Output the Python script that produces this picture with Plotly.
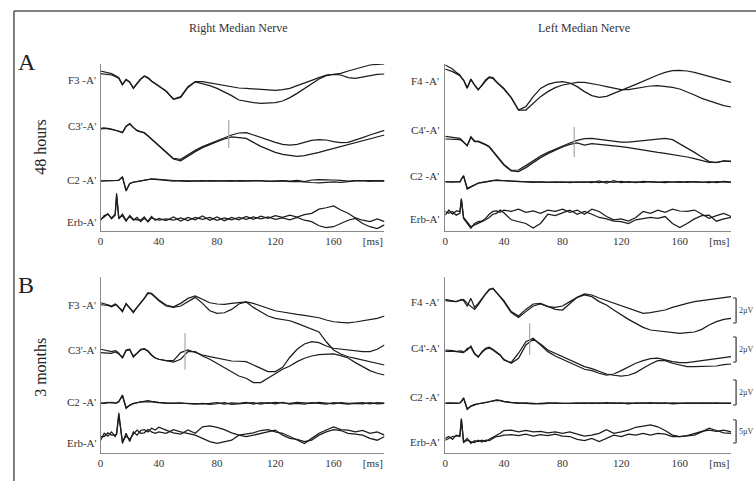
import plotly.graph_objects as go

W, H = 756, 481

# time axis (ms)
t_ms = [0, 2.5, 5, 7.5, 10, 11, 12.5, 15, 17.5, 20, 22.5, 25, 27.5, 30, 32.5, 35, 37.5, 40,
        45, 50, 55, 60, 65, 70, 75, 80, 85, 90, 95,
        100, 105, 110, 115, 120, 125, 130, 135, 140, 145, 150, 155, 160, 165, 170, 175, 180, 185, 190, 195]

# ---------------- A : 48 hours, Right Median Nerve (uV) ----------------
a_r_f3_1 = [0.32,0.27,0.21,0.11,-0.05,-0.11,-0.21,-0.75,-0.35,-0.55,-1.05,-0.67,-0.32,-0.08,-0.21,-0.48,-0.69,-0.88,
            -1.28,-1.92,-1.73,-0.93,-0.53,-0.53,-0.64,-0.75,-0.85,-0.96,-1.04,
            -1.07,-1.12,-1.17,-1.23,-1.23,-1.17,-1.07,-0.85,-0.67,-0.43,-0.21,0.0,0.05,0.13,0.32,0.48,0.67,0.8,0.85,0.88]
a_r_f3_2 = [0.11,0.08,0.05,0.0,-0.11,-0.17,-0.27,-0.78,-0.38,-0.58,-1.07,-0.7,-0.35,-0.1,-0.25,-0.5,-0.72,-0.9,
            -1.3,-1.95,-1.8,-1.0,-0.55,-0.67,-0.85,-1.07,-1.33,-1.65,-2.0,
            -2.13,-2.21,-2.27,-2.27,-2.21,-2.08,-1.81,-1.47,-1.07,-0.67,-0.32,-0.05,0.05,0.0,-0.21,-0.27,-0.16,-0.05,0.05,0.08]
a_r_c3_1 = [-0.08,-0.03,-0.03,-0.08,-0.16,-0.2,-0.24,-0.35,0.15,0.35,0.05,-0.19,-0.29,-0.37,-0.61,-0.88,-1.15,-1.41,
            -1.89,-2.43,-2.5,-2.11,-1.79,-1.49,-1.25,-1.04,-0.83,-0.56,-0.4,
            -0.37,-0.56,-0.77,-0.99,-1.15,-1.31,-1.36,-1.31,-1.15,-0.99,-0.93,-0.96,-1.09,-1.17,-1.15,-0.99,-0.77,-0.56,-0.35,-0.19]
a_r_c3_2 = [-0.03,0.0,-0.05,-0.1,-0.18,-0.22,-0.27,-0.38,0.12,0.32,0.03,-0.21,-0.32,-0.4,-0.64,-0.9,-1.17,-1.44,
            -1.92,-2.48,-2.62,-2.24,-1.89,-1.57,-1.31,-1.09,-0.88,-0.72,-0.77,
            -0.83,-1.15,-1.47,-1.71,-1.95,-2.11,-2.21,-2.27,-2.21,-2.11,-1.95,-1.79,-1.63,-1.47,-1.31,-1.2,-1.04,-0.88,-0.72,-0.56]
a_r_c2_1 = [0,0,0.03,0,0.03,0.05,0.05,0.35,-0.8,-0.2,-0.08,-0.05,0.0,0.08,0.13,0.16,0.16,0.13,
            0.08,0.03,0.0,-0.03,0.0,0.03,0.0,0.03,0.0,0.03,0.0,
            0.03,0.0,0.03,-0.03,0.0,0.03,0.0,0.05,-0.05,0.08,0.1,0.12,0.08,0.05,0.0,0.03,0.0,0.03,0.03,0.03]
a_r_c2_2 = [0,0,0,0.03,0.0,0.05,0.08,0.3,-0.75,-0.22,-0.1,-0.05,0.03,0.05,0.1,0.16,0.13,0.1,
            0.05,0.0,0.03,0.0,-0.03,0.0,0.03,0.0,0.03,0.0,0.03,
            0.0,0.03,0.0,0.0,-0.03,0.0,-0.05,-0.03,-0.1,-0.12,-0.15,-0.1,-0.08,-0.1,-0.03,0.0,0.03,-0.03,0.0,0.0]
a_r_erb_1 = [-0.4,0.6,0.9,0.1,0.9,5.4,-0.1,0.9,-0.4,0.4,-0.4,0.2,-0.7,0.0,-0.6,0.4,-0.4,0.0,
             -0.5,0.3,-0.6,0.2,-0.3,0.5,-0.4,0.3,-0.5,0.2,-0.3,
             0.4,-0.2,0.5,0.0,0.6,0.2,0.7,0.3,0.8,1.1,2.0,2.3,2.7,1.8,1.1,0.1,-0.4,-0.7,-0.1,-0.7]
a_r_erb_2 = [-0.2,0.3,1.0,-0.1,0.7,4.9,0.1,0.6,-0.6,0.6,-0.2,-0.3,-0.4,0.3,-0.8,0.1,-0.2,-0.4,
             -0.1,-0.4,0.1,-0.5,0.2,-0.2,0.2,-0.4,0.1,-0.3,0.2,
             -0.2,0.3,-0.1,0.3,-0.2,0.1,-0.3,0.2,-0.4,-0.7,-1.6,-2.0,-1.8,-1.1,-0.4,0.0,-1.1,-1.8,-2.2,-1.4]

# ---------------- A : 48 hours, Left Median Nerve (uV) ----------------
a_l_f4_1 = [0.8,0.67,0.48,0.21,0.0,-0.21,-0.4,-1.07,-0.32,-0.8,-1.2,-0.8,-0.4,-0.16,-0.21,-0.53,-0.8,-1.07,
            -1.81,-2.8,-2.53,-1.73,-1.07,-0.75,-0.59,-0.53,-0.64,-0.93,-1.33,
            -1.65,-1.79,-1.71,-1.47,-1.2,-0.99,-0.75,-0.48,-0.21,0.0,0.21,0.35,0.37,0.32,0.21,0.05,-0.13,-0.32,-0.48,-0.59]
a_l_f4_2 = [0.48,0.4,0.27,0.11,-0.05,-0.21,-0.4,-1.01,-0.37,-0.8,-1.15,-0.85,-0.48,-0.21,-0.27,-0.59,-0.85,-1.12,
            -1.81,-2.8,-2.8,-2.27,-1.73,-1.33,-1.01,-0.8,-0.67,-0.59,-0.59,
            -0.67,-0.8,-0.93,-1.07,-1.17,-1.17,-1.07,-0.96,-0.88,-0.85,-0.91,-0.99,-1.12,-1.33,-1.6,-1.87,-2.08,-2.29,-2.45,-2.56]
a_l_c4_1 = [0.21,0.16,0.11,0.11,0.05,-0.05,-0.21,-0.53,0.19,-0.16,-0.16,-0.27,-0.43,-0.59,-0.96,-1.33,-1.71,-2.03,
            -2.51,-2.48,-2.13,-1.71,-1.36,-1.07,-0.8,-0.56,-0.32,-0.11,0.03,
            0.05,-0.03,-0.11,-0.19,-0.24,-0.24,-0.19,-0.13,-0.05,0.0,0.05,-0.05,-0.37,-0.75,-1.07,-1.44,-1.81,-1.89,-1.76,-1.76]
a_l_c4_2 = [0.0,0.0,0.0,-0.03,-0.05,-0.11,-0.27,-0.53,0.13,-0.21,-0.21,-0.32,-0.48,-0.64,-1.01,-1.39,-1.76,-2.08,
            -2.56,-2.61,-2.29,-1.87,-1.49,-1.17,-0.88,-0.64,-0.43,-0.32,-0.48,
            -0.37,-0.43,-0.48,-0.53,-0.61,-0.69,-0.8,-0.88,-0.99,-1.07,-1.15,-1.23,-1.33,-1.44,-1.57,-1.71,-1.87,-1.87,-1.76,-1.81]
a_l_c2_1 = [0,0,0.03,0,0.03,0.24,0.51,-0.51,-0.37,-0.19,-0.08,-0.03,0.03,0.08,0.13,0.16,0.13,0.13,
            0.08,0.05,0.0,-0.03,0.0,-0.03,0.0,-0.03,0.0,-0.03,0.0,
            -0.05,0.08,-0.08,0.1,-0.05,0.03,-0.05,0.05,0.0,-0.03,0.03,0.0,-0.03,0.03,0.0,-0.03,0.03,-0.05,0.05,0.0]
a_l_c2_2 = [0.03,0.0,0.0,0.03,0.0,0.2,0.48,-0.56,-0.4,-0.21,-0.1,-0.05,0.03,0.05,0.1,0.13,0.13,0.1,
            0.05,0.03,0.03,0.0,-0.03,0.0,-0.03,0.0,-0.05,0.0,-0.03,
            0.03,-0.05,0.05,-0.03,0.05,-0.03,0.0,-0.03,0.03,0.0,-0.05,0.0,0.03,-0.03,0.03,0.0,-0.05,0.03,-0.03,-0.03]
a_l_erb_1 = [0.1,1.2,0.3,1.0,0.9,3.7,-0.6,-1.7,-2.7,-1.7,-1.3,-1.2,-0.6,0.3,0.9,1.0,0.7,1.2,
             0.9,1.4,0.7,1.0,0.5,1.2,0.9,1.4,0.7,1.2,0.3,
             1.4,0.9,-0.2,-0.9,-0.7,-1.2,-0.4,0.9,0.5,1.2,0.7,1.4,1.0,0.9,1.2,0.3,-0.6,0.0,0.5,-0.2]
a_l_erb_2 = [0.9,0.5,0.9,0.1,0.5,3.4,-0.4,-1.3,-2.4,-2.0,-1.7,-1.3,-0.9,-0.4,0.3,0.5,1.2,0.6,
             -0.9,-1.3,-1.7,-2.7,-1.7,0.3,0.0,0.6,1.2,0.3,0.9,
             0.3,-0.4,-0.7,-1.2,-1.3,-1.7,-0.9,-0.7,-0.4,-0.6,-0.2,-1.7,-2.6,-1.7,-0.7,0.0,0.1,-1.2,-0.7,-0.4]

# ---------------- B : 3 months, Right Median Nerve (uV) ----------------
b_r_f3_1 = [0.05,0.0,-0.11,-0.21,-0.05,-0.11,-0.32,-0.67,0.0,-0.4,-0.75,-0.32,0.0,0.4,0.85,0.8,0.53,0.27,
            -0.13,-0.27,0.0,0.4,0.59,0.32,0.05,-0.05,-0.08,0.0,0.08,
            0.11,0.0,-0.21,-0.43,-0.59,-0.69,-0.8,-0.88,-0.96,-1.07,-1.15,-1.33,-1.47,-1.52,-1.55,-1.49,-1.39,-1.33,-1.2,-1.01]
b_r_f3_2 = [-0.11,-0.11,-0.16,-0.27,-0.13,-0.16,-0.32,-0.59,-0.05,-0.32,-0.67,-0.32,0.0,0.4,0.8,0.75,0.48,0.21,
            -0.21,-0.32,-0.21,0.13,0.48,0.0,-0.59,-0.8,-0.75,-0.48,-0.05,
            0.11,-0.32,-0.67,-1.01,-1.2,-1.28,-1.39,-1.6,-1.81,-2.03,-2.29,-3.07,-3.73,-4.05,-4.27,-4.4,-4.53,-4.67,-4.8,-4.93]
b_r_c3_1 = [0.11,0.05,0.0,-0.08,0.0,-0.05,-0.21,-0.61,0.05,0.11,-0.53,-0.21,0.11,0.16,0.0,-0.35,-0.59,-0.69,
            -0.8,-0.8,-0.16,0.05,-0.16,-0.35,-0.48,-0.61,-0.75,-0.83,-0.85,
            -0.88,-1.15,-1.41,-1.68,-1.68,-1.33,-0.53,0.11,0.53,0.72,0.64,0.37,0.19,0.11,0.05,0.0,-0.08,-0.08,0.11,0.45]
b_r_c3_2 = [-0.16,-0.16,-0.21,-0.21,-0.11,-0.16,-0.27,-0.53,0.0,0.05,-0.43,-0.21,0.05,0.11,-0.05,-0.37,-0.59,-0.69,
            -0.8,-0.91,-0.69,-0.08,-0.08,-0.43,-0.69,-1.01,-1.33,-1.68,-2.03,
            -2.21,-2.56,-2.56,-2.21,-1.87,-1.49,-1.23,-0.88,-0.61,-0.43,-0.32,-0.27,-0.27,-0.4,-0.59,-0.96,-1.28,-1.6,-1.81,-1.95]
b_r_c2_1 = [0,0.05,0.08,0.05,0.0,0.03,0.13,0.67,-0.35,-0.13,0.0,0.05,0.1,0.16,0.21,0.16,0.1,0.08,
            0.05,0.03,0.0,0.03,0.0,-0.03,0.0,0.05,-0.05,0.03,0.0,
            0.08,-0.05,0.05,0.0,0.08,0.03,0.0,0.08,0.05,0.0,0.08,0.03,-0.03,0.05,0.0,0.03,0.05,-0.03,0.05,0.03]
b_r_c2_2 = [0.03,0.0,0.05,0.08,0.03,0.05,0.16,0.6,-0.4,-0.16,-0.03,0.08,0.13,0.13,0.16,0.13,0.08,0.05,
            0.0,0.0,0.03,-0.03,-0.05,0.0,-0.08,-0.03,0.05,-0.08,-0.05,
            0.0,0.05,-0.05,0.05,-0.03,0.08,-0.05,0.0,-0.05,0.05,0.0,-0.05,0.05,0.0,-0.05,0.0,-0.03,0.05,-0.03,0.0]
b_r_erb_1 = [-0.4,1.1,0.5,1.4,0.4,1.1,5.5,-1.1,1.1,-0.7,1.4,0.7,1.7,1.9,1.4,2.2,1.8,2.4,
             1.8,1.2,0.9,1.8,1.1,2.5,2.7,2.4,1.9,1.2,0.7,
             0.9,1.2,1.7,1.9,1.4,1.1,0.4,-0.4,-1.1,0.0,1.1,1.8,2.5,1.9,1.8,1.4,1.7,1.1,1.4,0.7]
b_r_erb_2 = [0.4,0.4,1.2,0.7,0.7,0.9,5.0,-0.7,0.5,-0.2,0.9,1.8,1.1,1.2,1.9,1.4,1.1,1.4,
             1.1,1.9,1.4,1.1,0.7,0.0,-0.7,-1.1,-0.7,-0.4,0.7,
             0.4,0.7,1.1,1.4,1.8,0.7,0.0,-0.2,-0.7,-0.4,0.7,1.4,1.9,1.7,1.1,0.9,0.7,0.0,-0.4,0.4]

# ---------------- B : 3 months, Left Median Nerve (uV) ----------------
b_l_f4_1 = [0.05,0.0,-0.05,-0.13,0.0,0.05,-0.05,-0.48,0.13,-0.59,-0.27,0.13,0.53,0.85,0.93,0.59,0.27,-0.05,
            -0.93,-1.28,-0.75,-0.32,-0.27,-0.48,-0.75,-0.8,-0.27,0.21,0.48,
            0.4,0.16,-0.05,-0.27,-0.48,-0.67,-0.85,-1.07,-1.01,-0.93,-0.8,-0.59,-0.4,-0.27,-0.13,-0.05,0.05,0.13,0.21,0.27]
b_l_f4_2 = [-0.05,-0.05,-0.11,-0.13,-0.05,0.0,0.05,-0.27,-0.53,-0.75,-0.4,0.05,0.48,0.8,0.93,0.59,0.21,-0.13,
            -1.01,-1.39,-0.93,-0.48,-0.32,-0.53,-0.59,-0.48,-0.13,0.21,0.4,
            0.27,-0.13,-0.4,-0.8,-1.2,-1.55,-1.87,-2.19,-2.4,-2.48,-2.53,-2.61,-2.67,-2.61,-2.56,-2.35,-2.0,-1.73,-1.55,-1.47]
b_l_c4_1 = [0.05,0.05,0.0,-0.05,0.0,-0.03,-0.11,0.05,0.37,-0.21,-0.53,-0.08,0.19,0.27,0.11,-0.11,-0.35,-0.75,
            -0.95,-0.21,0.72,0.99,0.45,-0.08,-0.43,-0.69,-0.96,-1.23,-1.49,
            -1.6,-1.81,-1.95,-1.87,-1.6,-1.28,-1.01,-0.8,-0.64,-0.61,-0.75,-0.88,-0.96,-0.96,-0.88,-0.8,-0.75,-0.64,-0.53,-0.48]
b_l_c4_2 = [-0.05,-0.03,-0.05,-0.08,-0.11,-0.11,-0.16,0.16,0.27,-0.27,-0.48,-0.16,0.11,0.19,0.05,-0.16,-0.37,-0.7,
            -1.01,-0.61,0.45,0.91,0.53,0.05,-0.21,-0.48,-0.75,-1.01,-1.28,
            -1.44,-1.68,-1.87,-1.97,-2.03,-1.97,-1.76,-1.41,-1.07,-0.8,-0.8,-1.01,-1.17,-1.28,-1.28,-1.28,-1.28,-1.23,-1.12,-1.07]
b_l_c2_1 = [0,0.03,0.0,0.03,0.05,0.16,0.45,-0.43,-0.21,-0.08,-0.05,0.0,0.05,0.13,0.21,0.27,0.24,0.16,
            0.08,0.03,0.0,-0.03,0.0,0.03,0.0,-0.03,0.0,0.03,0.0,
            0.03,0.0,0.05,0.0,0.03,-0.03,0.03,0.0,0.05,0.0,0.03,-0.03,0.0,0.03,0.0,0.03,0.0,0.03,0.0,0.0]
b_l_c2_2 = [0.03,0.0,0.03,0.0,0.03,0.13,0.4,-0.48,-0.24,-0.11,-0.03,0.03,0.08,0.16,0.21,0.24,0.21,0.13,
            0.05,0.0,0.03,0.0,-0.03,0.0,0.03,0.0,-0.03,0.0,0.03,
            0.0,0.03,0.0,0.03,0.0,0.03,0.0,0.03,0.0,0.03,0.0,0.03,0.0,0.0,0.03,0.0,0.03,0.0,0.03,0.03]
b_l_erb_1 = [-0.4,0.0,0.4,0.5,0.7,4.3,-0.7,0.0,-1.1,-0.5,-0.7,-0.4,-0.7,-0.2,0.2,0.7,1.1,1.7,
             1.8,1.4,1.7,1.4,1.5,1.2,1.4,1.1,1.4,0.9,0.5,
             0.7,1.1,1.9,1.1,1.4,1.8,2.4,2.7,2.9,2.5,1.7,0.7,0.4,0.6,1.1,1.5,1.8,1.5,1.8,1.4]
b_l_erb_2 = [0.0,0.4,-0.2,0.7,0.4,4.0,-0.9,-0.4,-0.7,-0.9,-0.4,-0.8,-0.4,-0.5,0.0,0.4,0.5,0.7,
             0.8,0.6,0.9,0.5,0.8,0.6,0.9,0.5,0.4,-0.2,-0.5,
             0.0,-0.7,0.0,0.7,0.4,0.9,0.7,1.1,0.7,1.1,0.9,0.4,0.4,0.5,0.7,1.4,2.2,1.7,1.2,1.1]

# latency cursors on the central channel (ms, extent in uV)
cursor_t = [88, 88, 58, 57.6]
cursor_top = [0.64, 0.96, 1.4, 2.2]
cursor_bottom = [-1.6, -1.44, -1.5, -0.35]

# calibration bars (uV) on the 3-month left-nerve panel
cal_uv = [2, 2, 2, 5]
cal_text = ["2\u00b5V", "2\u00b5V", "2\u00b5V", "5\u00b5V"]
cal_bottom_uv = [-1.84, -0.91, -0.13, -1.0]

ERB_GAIN = 0.37      # Erb channel is drawn at lower gain (5 uV bar)
PX_PER_UV = 12.5

panels = [
    dict(title="Right Median Nerve", xpx=(98, 383), ypx=(64, 231), label_x=95,
         labels=["F3 -A'", "C3'-A'", "C2 -A'", "Erb-A'"], label_y=[80, 126, 180, 222],
         offsets=[12.48, 8.24, 4.0, 1.01],
         data=[(a_r_f3_1, a_r_f3_2), (a_r_c3_1, a_r_c3_2), (a_r_c2_1, a_r_c2_2), (a_r_erb_1, a_r_erb_2)]),
    dict(title="Left Median Nerve", xpx=(444, 731), ypx=(64, 231), label_x=440,
         labels=["F4 -A'", "C4'-A'", "C2 -A'", "Erb-A'"], label_y=[81, 130, 176, 219],
         offsets=[12.48, 7.36, 3.92, 1.23],
         data=[(a_l_f4_1, a_l_f4_2), (a_l_c4_1, a_l_c4_2), (a_l_c2_1, a_l_c2_2), (a_l_erb_1, a_l_erb_2)]),
    dict(title=None, xpx=(98, 383), ypx=(277, 453), label_x=95,
         labels=["F3 -A'", "C3'-A'", "C2 -A'", "Erb-A'"], label_y=[305, 350, 402, 443],
         offsets=[11.97, 8.19, 3.97, 1.17],
         data=[(b_r_f3_1, b_r_f3_2), (b_r_c3_1, b_r_c3_2), (b_r_c2_1, b_r_c2_2), (b_r_erb_1, b_r_erb_2)]),
    dict(title=None, xpx=(444, 731), ypx=(277, 453), label_x=440,
         labels=["F4 -A'", "C4'-A'", "C2 -A'", "Erb-A'"], label_y=[302, 348, 397, 442],
         offsets=[12.24, 8.19, 3.97, 1.17],
         data=[(b_l_f4_1, b_l_f4_2), (b_l_c4_1, b_l_c4_2), (b_l_c2_1, b_l_c2_2), (b_l_erb_1, b_l_erb_2)]),
]

SERIF = "Liberation Serif"
fig = go.Figure()
layout = dict(width=W, height=H, margin=dict(l=0, r=0, t=0, b=0),
              paper_bgcolor="white", plot_bgcolor="white", showlegend=False)
annotations = []
shapes = []

def fx(px):
    return px / W

def fy(py):
    return 1 - py / H

for i, p in enumerate(panels):
    n = "" if i == 0 else str(i + 1)
    xname, yname = "x" + n, "y" + n
    ymax = (p["ypx"][1] - p["ypx"][0]) / PX_PER_UV
    layout["xaxis" + n] = dict(domain=[fx(p["xpx"][0]), fx(p["xpx"][1])], range=[0, 195],
                               anchor=yname, showline=True, linecolor="#8a8a8a", linewidth=1,
                               ticks="", showgrid=False, zeroline=False,
                               tickvals=[0, 40, 80, 120, 160, 187],
                               ticktext=["0", "40", "80", "120", "160", "[ms]"],
                               tickfont=dict(family=SERIF, size=11, color="#333"))
    layout["yaxis" + n] = dict(domain=[fy(p["ypx"][1]), fy(p["ypx"][0])], range=[0, ymax],
                               anchor=xname, showline=True, linecolor="#8a8a8a", linewidth=1,
                               ticks="", showticklabels=False, showgrid=False, zeroline=False)
    for ch, (tr1, tr2) in enumerate(p["data"]):
        gain = ERB_GAIN if ch == 3 else 1.0
        off = p["offsets"][ch]
        for tr in (tr1, tr2):
            fig.add_trace(go.Scatter(x=t_ms, y=[off + gain * v for v in tr], mode="lines",
                                     line=dict(color="#1c1c1c", width=1.25),
                                     xaxis=xname, yaxis=yname, hoverinfo="skip"))
        annotations.append(dict(text=p["labels"][ch], x=fx(p["label_x"]), y=fy(p["label_y"][ch]),
                                xref="paper", yref="paper", xanchor="right", yanchor="middle",
                                showarrow=False, font=dict(family=SERIF, size=11, color="#333")))
    # latency cursor on the second channel
    off = p["offsets"][1]
    fig.add_trace(go.Scatter(x=[cursor_t[i], cursor_t[i]],
                             y=[off + cursor_bottom[i], off + cursor_top[i]], mode="lines",
                             line=dict(color="#a8a8a8", width=1.2),
                             xaxis=xname, yaxis=yname, hoverinfo="skip"))
    if p["title"]:
        annotations.append(dict(text=p["title"], x=fx((p["xpx"][0] + p["xpx"][1]) / 2 - 4), y=fy(28),
                                xref="paper", yref="paper", xanchor="center", yanchor="middle",
                                showarrow=False, font=dict(family=SERIF, size=12, color="#333")))

# calibration bars on the last panel
last = panels[3]
ybot_px = last["ypx"][1]
for k in range(4):
    gain = ERB_GAIN if k == 3 else 1.0
    off = last["offsets"][k]
    y0 = off + gain * cal_bottom_uv[k]
    y1 = y0 + gain * cal_uv[k]
    shapes.append(dict(type="line", xref="paper", yref="y4", x0=fx(736), x1=fx(736), y0=y0, y1=y1,
                       line=dict(color="#333", width=1.2)))
    for yy in (y0, y1):
        shapes.append(dict(type="line", xref="paper", yref="y4", x0=fx(733), x1=fx(736), y0=yy, y1=yy,
                           line=dict(color="#333", width=1)))
    ymid_px = ybot_px - PX_PER_UV * (y0 + y1) / 2
    annotations.append(dict(text=cal_text[k], x=fx(755), y=fy(ymid_px), xref="paper", yref="paper",
                            xanchor="right", yanchor="middle", showarrow=False, borderpad=0,
                            font=dict(family=SERIF, size=8, color="#333")))

# row letters and row titles
annotations += [
    dict(text="A", x=fx(13), y=fy(62), xref="paper", yref="paper", xanchor="left", yanchor="middle",
         showarrow=False, font=dict(family=SERIF, size=24, color="#222")),
    dict(text="B", x=fx(13), y=fy(285), xref="paper", yref="paper", xanchor="left", yanchor="middle",
         showarrow=False, font=dict(family=SERIF, size=24, color="#222")),
    dict(text="48 hours", x=fx(37), y=fy(147), xref="paper", yref="paper", xanchor="center",
         yanchor="middle", textangle=-90, showarrow=False, font=dict(family=SERIF, size=16, color="#222")),
    dict(text="3 months", x=fx(37), y=fy(367), xref="paper", yref="paper", xanchor="center",
         yanchor="middle", textangle=-90, showarrow=False, font=dict(family=SERIF, size=16, color="#222")),
]

# outer frame (top and left edges visible)
shapes += [
    dict(type="line", xref="paper", yref="paper", x0=fx(11), x1=1, y0=fy(11), y1=fy(11),
         line=dict(color="#555", width=1.5)),
    dict(type="line", xref="paper", yref="paper", x0=fx(11), x1=fx(11), y0=fy(11), y1=0,
         line=dict(color="#555", width=1.5)),
]

layout["annotations"] = annotations
layout["shapes"] = shapes
fig.update_layout(**layout)
fig.write_html("out.html", config={"displayModeBar": False, "staticPlot": True},
               post_script="document.body.style.margin='0';document.body.style.overflow='hidden';")
